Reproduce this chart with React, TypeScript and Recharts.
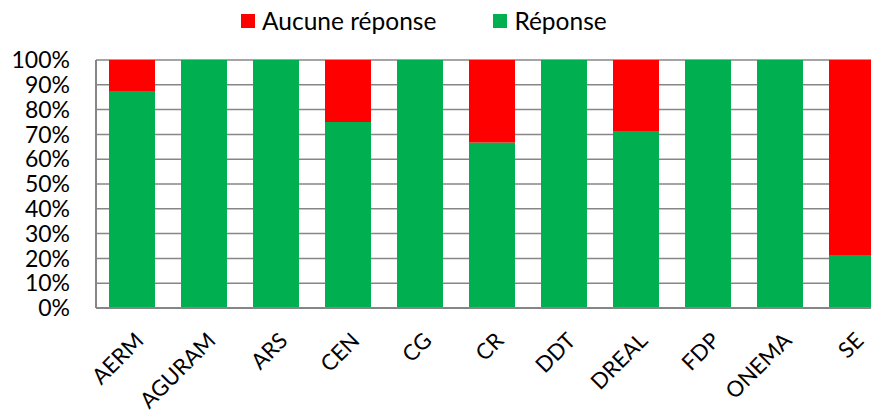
import { BarChart, Bar, XAxis, YAxis, CartesianGrid, Legend } from "recharts";

const CATEGORIES = ["AERM", "AGURAM", "ARS", "CEN", "CG", "CR", "DDT", "DREAL", "FDP", "ONEMA", "SE"];
const REPONSE = [87.5, 100, 100, 75, 100, 66.7, 100, 71.4, 100, 100, 21.4];
const AUCUNE = [12.5, 0, 0, 25, 0, 33.3, 0, 28.6, 0, 0, 78.6];
const Y_TICKS = [0, 10, 20, 30, 40, 50, 60, 70, 80, 90, 100];

const SERIES = [
	{ key: "aucune", name: "Aucune réponse", color: "#ff0000" },
	{ key: "reponse", name: "Réponse", color: "#00b050" },
];

const FONT = "Lato, 'Open Sans', sans-serif";

const data = CATEGORIES.map((name, i) => ({
	name,
	reponse: REPONSE[i],
	aucune: AUCUNE[i],
}));

// rotated category label, anchored just right of the bar centre
const XTick = ({ x, y, payload }: any) => {
	const ax = x + 13;
	const ay = y + 34;
	return (
		<text
			x={ax}
			y={ay}
			textAnchor='end'
			fontSize={22}
			fontFamily={FONT}
			fill='#000'
			transform={`rotate(-45, ${ax}, ${ay})`}
		>
			{payload.value}
		</text>
	);
};

const LegendBox = () => (
	<div
		style={{
			height: 40,
			display: "flex",
			alignItems: "flex-start",
			paddingLeft: 241,
			paddingTop: 6,
			boxSizing: "border-box",
			fontFamily: FONT,
			fontSize: 24.5,
			color: "#000",
		}}
	>
		{SERIES.map((s, i) => (
			<div
				key={s.key}
				style={{ display: "flex", alignItems: "center", marginRight: i === 0 ? 57 : 0 }}
			>
				<span
					style={{ display: "inline-block", width: 14, height: 14, background: s.color, marginRight: 7 }}
				/>
				<span>{s.name}</span>
			</div>
		))}
	</div>
);

const App = () => {
	return (
		<div style={{ position: "absolute", left: 0, top: 0, width: 871, height: 412, overflow: "hidden" }}>
			<BarChart
				width={888}
				height={412}
				data={data}
				margin={{ top: 20, right: 0, left: 0, bottom: 0 }}
			>
				<CartesianGrid vertical={false} stroke='#868686' strokeWidth={1.5} />
				<XAxis
					dataKey='name'
					height={104}
					interval={0}
					tickLine={false}
					tickSize={0}
					tickMargin={0}
					axisLine={{ stroke: "#868686", strokeWidth: 2 }}
					tick={<XTick />}
				/>
				<YAxis
					width={96}
					domain={[0, 100]}
					ticks={Y_TICKS}
					interval={0}
					tickLine={false}
					tickSize={0}
					tickMargin={26}
					axisLine={{ stroke: "#868686", strokeWidth: 2 }}
					tickFormatter={(v) => `${v}%`}
					tick={{ fill: "#000", fontSize: 23, fontFamily: FONT }}
				/>
				<Legend
					verticalAlign='top'
					content={<LegendBox />}
					wrapperStyle={{ top: 0, left: 0, width: 888, height: 40 }}
				/>
				<Bar dataKey='reponse' stackId='a' fill='#00b050' barSize={46} isAnimationActive={false} />
				<Bar dataKey='aucune' stackId='a' fill='#ff0000' barSize={46} isAnimationActive={false} />
			</BarChart>
		</div>
	);
};

export default App;
